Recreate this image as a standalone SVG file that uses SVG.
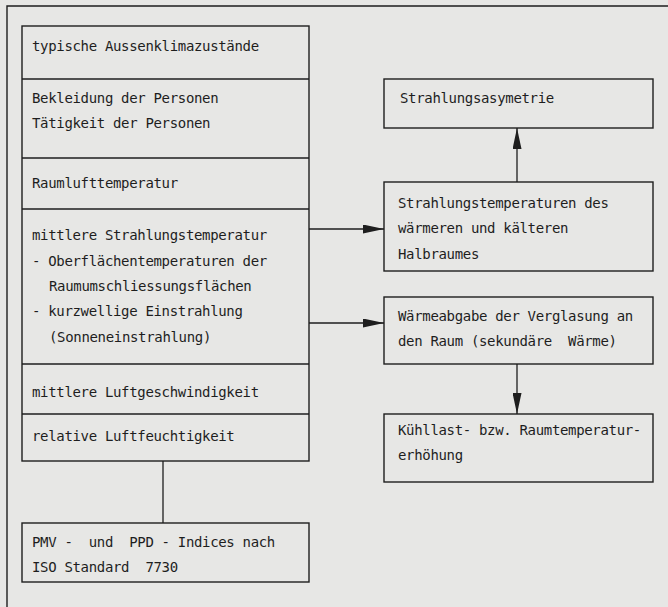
<svg xmlns="http://www.w3.org/2000/svg" width="668" height="607" viewBox="0 0 668 607">
<defs>
<marker id="ah" viewBox="0 0 21 9" refX="21" refY="4.5" markerWidth="21" markerHeight="9" markerUnits="userSpaceOnUse" orient="auto">
<path d="M0,0 L21,4.5 L0,9 Z" fill="#1e1e1e"/>
</marker>
<style>
.bx{fill:none;stroke:#1e1e1e;stroke-width:1.4}
.ln{fill:none;stroke:#1e1e1e;stroke-width:1.3}
text{font-family:"DejaVu Sans Mono","Liberation Mono",monospace;font-size:14px;letter-spacing:-0.33px;fill:#1e1e1e}
</style>
</defs>
<rect x="0" y="0" width="668" height="607" fill="#e7e7e5"/>
<g id="frame">
<path class="bx" d="M7,607 L7,6 L668,6" stroke-width="1.8"/>
</g>
<g id="left-stack">
<rect class="bx" x="22" y="26" width="287" height="435"/>
<line class="ln" x1="22" y1="79" x2="309" y2="79"/>
<line class="ln" x1="22" y1="158" x2="309" y2="158"/>
<line class="ln" x1="22" y1="209" x2="309" y2="209"/>
<line class="ln" x1="22" y1="364" x2="309" y2="364"/>
<line class="ln" x1="22" y1="414" x2="309" y2="414"/>
<g id="n-aussenklima"><text x="32" y="51">typische Aussenklimazustände</text></g>
<g id="n-personen"><text x="32" y="103">Bekleidung der Personen</text><text x="32" y="128">Tätigkeit der Personen</text></g>
<g id="n-raumluft"><text x="32" y="188">Raumlufttemperatur</text></g>
<g id="n-strahlung"><text x="32" y="240">mittlere Strahlungstemperatur</text><text x="32" y="266">- Oberflächentemperaturen der</text><text x="49" y="291">Raumumschliessungsflächen</text><text x="32" y="316">- kurzwellige Einstrahlung</text><text x="49" y="342">(Sonneneinstrahlung)</text></g>
<g id="n-luftgeschw"><text x="32" y="397">mittlere Luftgeschwindigkeit</text></g>
<g id="n-feuchte"><text x="32" y="441">relative Luftfeuchtigkeit</text></g>
</g>
<g id="n-pmv">
<rect class="bx" x="22" y="523" width="287" height="59"/>
<text x="32" y="547" xml:space="preserve">PMV -  und  PPD - Indices nach</text>
<text x="32" y="572" xml:space="preserve">ISO Standard  7730</text>
</g>
<g id="n-asymetrie">
<rect class="bx" x="384" y="79" width="269" height="49"/>
<text x="400" y="103">Strahlungsasymetrie</text>
</g>
<g id="n-halbraum">
<rect class="bx" x="384" y="182" width="269" height="89"/>
<text x="398" y="208">Strahlungstemperaturen des</text>
<text x="398" y="233">wärmeren und kälteren</text>
<text x="398" y="259">Halbraumes</text>
</g>
<g id="n-verglasung">
<rect class="bx" x="384" y="297" width="269" height="67"/>
<text x="398" y="321" xml:space="preserve">Wärmeabgabe der Verglasung an</text>
<text x="398" y="346" xml:space="preserve">den Raum (sekundäre  Wärme)</text>
</g>
<g id="n-kuehllast">
<rect class="bx" x="384" y="414" width="269" height="68"/>
<text x="398" y="435">Kühllast- bzw. Raumtemperatur-</text>
<text x="398" y="460">erhöhung</text>
</g>
<g id="connectors">
<line class="ln" x1="163" y1="461" x2="163" y2="523"/>
<line class="ln" x1="309" y1="229" x2="384" y2="229" marker-end="url(#ah)"/>
<line class="ln" x1="309" y1="323" x2="384" y2="323" marker-end="url(#ah)"/>
<line class="ln" x1="517" y1="182" x2="517" y2="128" marker-end="url(#ah)"/>
<line class="ln" x1="517" y1="364" x2="517" y2="414" marker-end="url(#ah)"/>
</g>
</svg>
